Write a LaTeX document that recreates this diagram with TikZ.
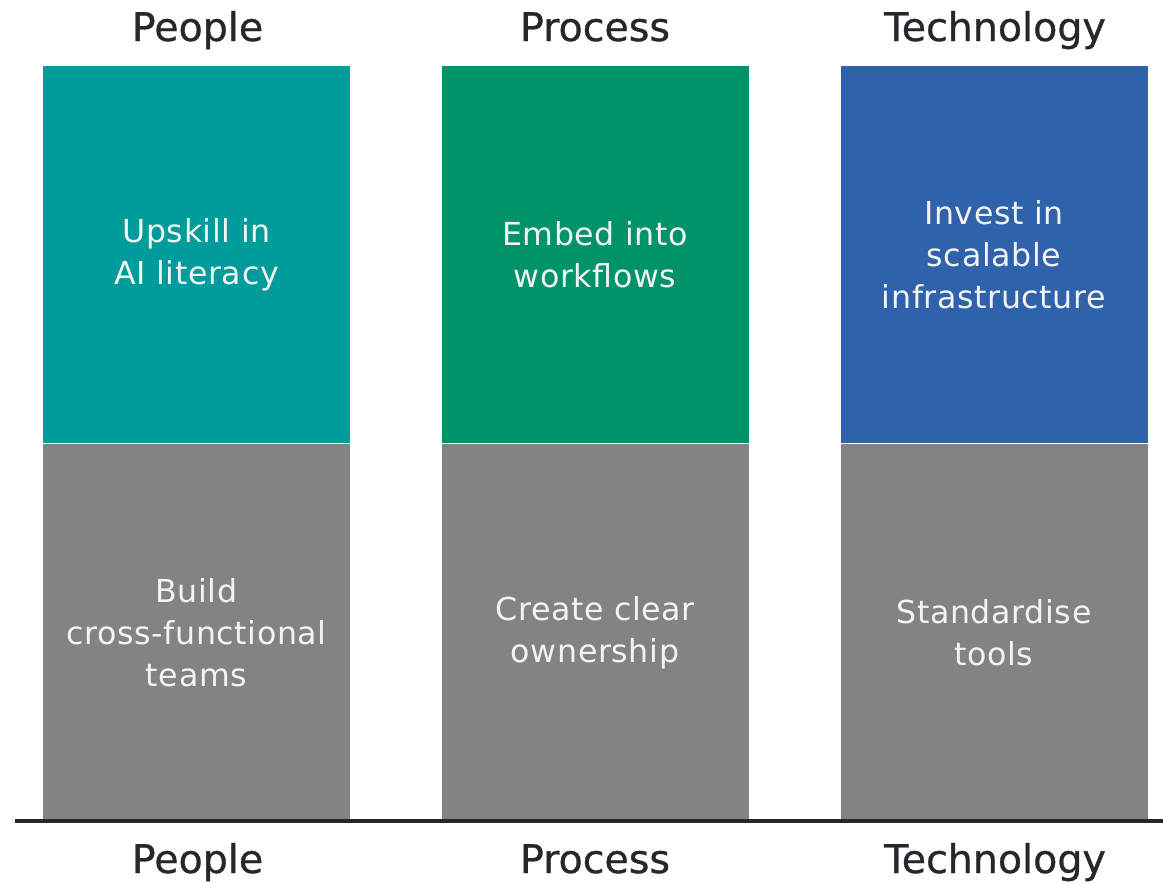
\documentclass[tikz,border=0pt]{standalone}
\usepackage{fontspec}
\setmainfont{DejaVu Sans}
\newfontfamily\pillarfont[LetterSpace=2]{DejaVu Sans}
\newfontfamily\headfont[FakeBold=0.8]{DejaVu Sans}
\usetikzlibrary{positioning}
\definecolor{colTeal}{HTML}{009B9B}
\definecolor{colGreen}{HTML}{00936A}
\definecolor{colBlue}{HTML}{2F62AB}
\definecolor{colGrey}{HTML}{838386}
\definecolor{colInk}{HTML}{24272C}
\definecolor{colPale}{HTML}{F2F4F4}
\tikzset{
  pillar/.style={rectangle, minimum width=6.14cm, inner sep=0pt, text width=6.1cm, align=center, text=colPale, font=\pillarfont\fontsize{18}{23.8}\selectfont},
  pillar_top/.style={pillar, minimum height=7.54cm},
  pillar_bottom/.style={pillar, minimum height=7.56cm, fill=colGrey},
  heading/.style={anchor=base, text=colInk, inner sep=0pt, font=\headfont\fontsize{22.5}{26}\selectfont}
}
\begin{document}
\begin{tikzpicture}
\useasboundingbox (0,0) rectangle (23.26,-17.66);
% TEXT
\node[heading] at (3.95,-0.82) (people_head) {People};
\node[heading] at (11.9,-0.82) (process_head) {Process};
\node[heading] at (19.9,-0.82) (technology_head) {Technology};
\begin{scope} % Top blocks
\node[pillar_top, fill=colTeal] at (3.93,-5.09) (people_top) {Upskill in\\AI literacy};
\node[pillar_top, fill=colGreen] at (11.9,-5.09) (process_top) {Embed into\\workflows};
\node[pillar_top, fill=colBlue] at (19.88,-5.09) (technology_top) {Invest in\\scalable\\infrastructure};
\end{scope}
\begin{scope} % Bottom blocks
\node[pillar_bottom, below=0pt of people_top] (people_bottom) {Build\\cross-functional\\teams};
\node[pillar_bottom, below=0pt of process_top] (process_bottom) {Create clear\\ownership};
\node[pillar_bottom, below=0pt of technology_top] (technology_bottom) {Standardise\\tools};
\end{scope}
% Base line
\coordinate (base_left) at (0.3,-16.42);
\coordinate (base_right) at (23.26,-16.42);
\draw[colInk, line width=2.4pt] (base_left) -- (base_right);
\node[heading] at (3.95,-17.46) (people_foot) {People};
\node[heading] at (11.9,-17.46) (process_foot) {Process};
\node[heading] at (19.9,-17.46) (technology_foot) {Technology};
\end{tikzpicture}
\end{document}
